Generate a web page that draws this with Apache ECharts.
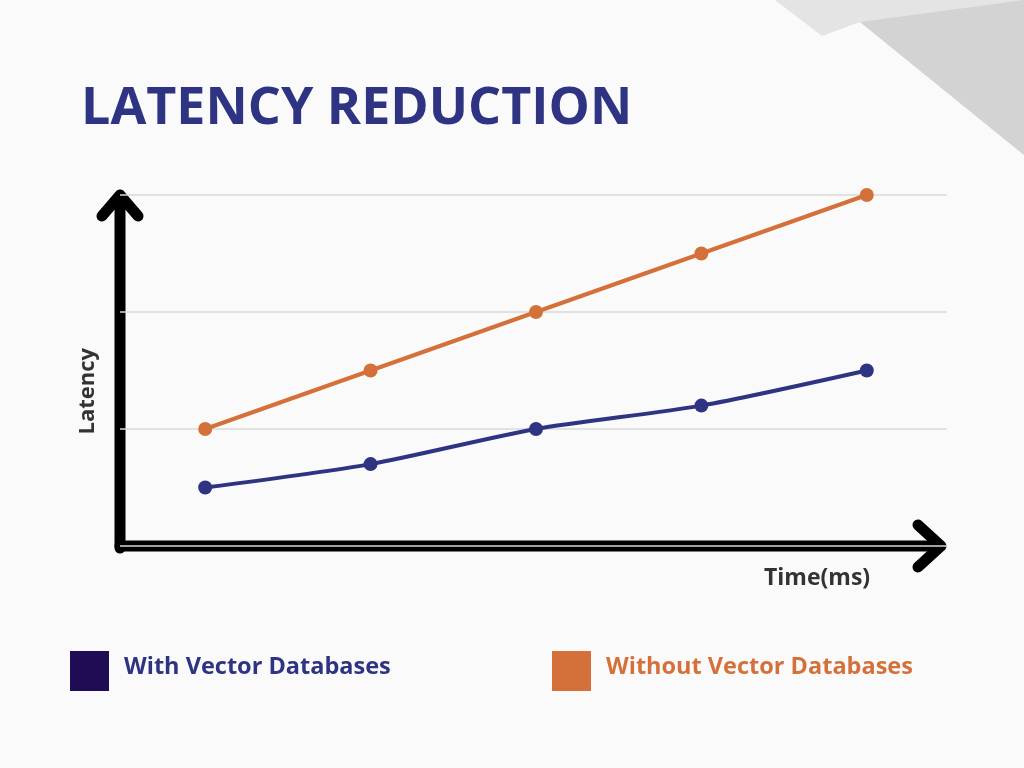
<!DOCTYPE html>
<html><head><meta charset="utf-8">
<script src="https://cdn.jsdelivr.net/npm/echarts@6/dist/echarts.min.js"></script>
<style>html,body{margin:0;padding:0;background:#fafafa}#c{width:1024px;height:768px}</style>
</head><body><div id="c"></div>
<script>
const xValues = [1, 2, 3, 4, 5];
const withVector = [0.5, 0.7, 1.0, 1.2, 1.5];
const withoutVector = [1.0, 1.5, 2.0, 2.5, 3.0];
const seriesNames = ['With Vector Databases', 'Without Vector Databases'];

const chart = echarts.init(document.getElementById('c'));
const pair = arr => xValues.map((x, i) => [x, arr[i]]);
chart.setOption({
  backgroundColor: '#fafafa',
  animation: false,
  title: {text: 'LATENCY REDUCTION', left: 76, top: 78,
    textStyle: {fontFamily: 'Open Sans', fontWeight: 'bold', fontSize: 52, color: '#2e3382'}},
  grid: {left: 120, right: 77, top: 195, bottom: 222},
  xAxis: {type: 'value', min: 0.485, max: 5.485, axisLine: {show: false}, axisTick: {show: false},
    axisLabel: {show: false}, splitLine: {show: false}},
  yAxis: {type: 'value', min: 0, max: 3, interval: 1, axisLine: {show: false}, axisTick: {show: false},
    axisLabel: {show: false}, splitLine: {lineStyle: {color: '#d9d9d9', width: 1.5}}},
  legend: {show: false},
  series: [
    {name: seriesNames[0], type: 'line', data: pair(withVector), smooth: 0.25,
      symbol: 'circle', symbolSize: 14, lineStyle: {color: '#2e3382', width: 4},
      itemStyle: {color: '#2e3382'}},
    {name: seriesNames[1], type: 'line', data: pair(withoutVector),
      symbol: 'circle', symbolSize: 14, lineStyle: {color: '#d4713a', width: 4},
      itemStyle: {color: '#d4713a'}}
  ],
  graphic: [
    {type: 'polygon', silent: true, z: -1, shape: {points: [[775,0],[1024,0],[1024,155],[860,22],[822,36]]}, style: {fill: '#e4e4e4'}},
    {type: 'polygon', silent: true, z: -1, shape: {points: [[860,22],[1024,0],[1024,155]]}, style: {fill: '#d3d3d3'}},
    {type: 'polyline', shape: {points: [[120,548],[120,196]]}, style: {stroke: '#000', lineWidth: 11, lineCap: 'round', fill: null}},
    {type: 'polyline', shape: {points: [[102,216],[120,195],[138,216]]}, style: {stroke: '#000', lineWidth: 11, lineCap: 'round', lineJoin: 'round', fill: null}},
    {type: 'polyline', shape: {points: [[120,546],[940,546]]}, style: {stroke: '#000', lineWidth: 11, lineCap: 'round', fill: null}},
    {type: 'polyline', shape: {points: [[918,525],[941,546],[918,567]]}, style: {stroke: '#000', lineWidth: 11, lineCap: 'round', lineJoin: 'round', fill: null}},
    {type: 'text', left: 77, top: 348, rotation: Math.PI/2, style: {text: 'Latency', font: 'bold 22px "Open Sans"', fill: '#333'}},
    {type: 'text', left: 764, top: 567, style: {text: 'Time(ms)', font: 'bold 23px "Open Sans"', fill: '#333'}},
    {type: 'rect', shape: {x: 70, y: 651, width: 39, height: 40}, style: {fill: '#1f0c55'}},
    {type: 'text', left: 124, top: 655, style: {text: seriesNames[0], font: 'bold 23.5px "Open Sans"', fill: '#2e3382'}},
    {type: 'rect', shape: {x: 552, y: 651, width: 39, height: 40}, style: {fill: '#d4713a'}},
    {type: 'text', left: 606, top: 655, style: {text: seriesNames[1], font: 'bold 23.5px "Open Sans"', fill: '#d4713a'}}
  ]
});
</script></body></html>
